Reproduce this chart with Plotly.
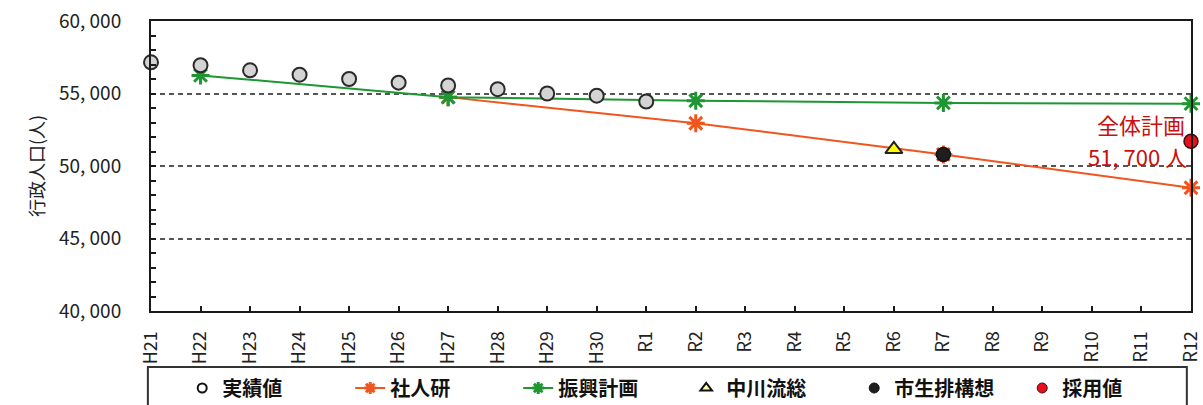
import plotly.graph_objects as go

# 年度カテゴリ（平成21年度〜令和12年度）
years = ["H21", "H22", "H23", "H24", "H25", "H26", "H27", "H28", "H29", "H30",
         "R1", "R2", "R3", "R4", "R5", "R6", "R7", "R8", "R9", "R10", "R11", "R12"]

# 実績値
actual_years = ["H21", "H22", "H23", "H24", "H25", "H26", "H27", "H28", "H29", "H30", "R1"]
actual_vals = [57150, 56950, 56600, 56300, 56000, 55750, 55550, 55300, 55000, 54850, 54450]

# 社人研推計
ipss_years = ["H27", "R2", "R7", "R12"]
ipss_vals = [54750, 52950, 50800, 48500]

# 振興計画
plan_years = ["H22", "H27", "R2", "R7", "R12"]
plan_vals = [56250, 54750, 54500, 54350, 54300]

# 中川流総
nakagawa_years = ["R6"]
nakagawa_vals = [51150]

# 市生排構想
city_years = ["R7"]
city_vals = [50800]

# 採用値
adopted_years = ["R12"]
adopted_vals = [51700]

y_ticks = [40000, 45000, 50000, 55000, 60000]
y_ticktext = [f"{v:,}".replace(",", ", ") for v in y_ticks]

FONT = "Noto Sans CJK JP"
ORANGE = "#f0551e"
GREEN = "#1e9632"

fig = go.Figure()

# --- データ系列 ---
fig.add_trace(go.Scatter(
    x=ipss_years, y=ipss_vals, name="社人研", mode="lines+markers",
    line=dict(color=ORANGE, width=2),
    marker=dict(symbol="asterisk-open", size=15, line=dict(color=ORANGE, width=3)),
    cliponaxis=False, showlegend=False,
))
fig.add_trace(go.Scatter(
    x=plan_years, y=plan_vals, name="振興計画", mode="lines+markers",
    line=dict(color=GREEN, width=2),
    marker=dict(symbol="asterisk-open", size=15, line=dict(color=GREEN, width=3)),
    cliponaxis=False, showlegend=False,
))
fig.add_trace(go.Scatter(
    x=actual_years, y=actual_vals, name="実績値", mode="markers",
    marker=dict(symbol="circle", size=14, color="#d4d4d4", line=dict(color="#2a2a2a", width=2)),
    cliponaxis=False, showlegend=False,
))
fig.add_trace(go.Scatter(
    x=nakagawa_years, y=nakagawa_vals, name="中川流総", mode="markers",
    marker=dict(symbol="triangle-up", size=15, color="#ffff00", line=dict(color="#222222", width=2)),
    cliponaxis=False, showlegend=False,
))
fig.add_trace(go.Scatter(
    x=city_years, y=city_vals, name="市生排構想", mode="markers",
    marker=dict(symbol="circle", size=14, color="#1e1e1e", line=dict(color="#111111", width=1.5)),
    cliponaxis=False, showlegend=False,
))
fig.add_trace(go.Scatter(
    x=adopted_years, y=adopted_vals, name="採用値", mode="markers",
    marker=dict(symbol="circle", size=14, color="#e8101e", line=dict(color="#3a1010", width=1.5)),
    cliponaxis=False, showlegend=False,
))

# --- 凡例用（小さめの記号） ---
legend_items = [
    ("実績値", "markers", dict(symbol="circle", size=9, color="white", line=dict(color="#111111", width=2)), None),
    ("社人研", "lines+markers", dict(symbol="asterisk-open", size=10, line=dict(color=ORANGE, width=3)), dict(color=ORANGE, width=2)),
    ("振興計画", "lines+markers", dict(symbol="asterisk-open", size=10, line=dict(color=GREEN, width=3)), dict(color=GREEN, width=2)),
    ("中川流総", "markers", dict(symbol="triangle-up", size=10, color="#ffffb0", line=dict(color="#111111", width=2)), None),
    ("市生排構想", "markers", dict(symbol="circle", size=10, color="#1e1e1e", line=dict(color="#111111", width=1)), None),
    ("採用値", "markers", dict(symbol="circle", size=10, color="#e8101e", line=dict(color="#3a1010", width=1)), None),
]
for name, mode, mk, ln in legend_items:
    kw = dict(line=ln) if ln else {}
    fig.add_trace(go.Scatter(x=[None], y=[None], name=name, mode=mode, marker=mk,
                             showlegend=True, hoverinfo="skip", **kw))

# 採用値の注記
fig.add_annotation(x=adopted_years[0], y=52900, xref="x", yref="y", text="全体計画",
                   showarrow=False, xanchor="right", xshift=-4,
                   font=dict(family=FONT, size=22, color="#c81010"))
fig.add_annotation(x=adopted_years[0], y=50700, xref="x", yref="y",
                   text=f"{adopted_vals[0]:,}".replace(",", ", ") + " 人",
                   showarrow=False, xanchor="right", xshift=-2,
                   font=dict(family=FONT, size=22, color="#c81010"))

# 凡例の枠
fig.add_shape(type="rect", xref="paper", yref="paper",
              x0=-0.003, x1=0.996, y0=-0.40, y1=-0.193,
              line=dict(color="#333333", width=2), fillcolor="white", layer="below")

fig.update_layout(
    width=1203, height=405,
    margin=dict(l=151, r=12, t=21, b=94, autoexpand=False),
    paper_bgcolor="white", plot_bgcolor="white",
    font=dict(family=FONT, color="#222222"),
    showlegend=True,
    legend=dict(
        orientation="h", x=0.03, xanchor="left", y=-0.2655, yanchor="middle",
        entrywidth=123, entrywidthmode="pixels",
        borderwidth=0, bgcolor="rgba(0,0,0,0)",
        font=dict(family=FONT, size=20, color="#111111", weight="bold"),
    ),
)

fig.update_xaxes(
    type="category", categoryorder="array", categoryarray=years,
    range=[0, len(years) - 1],
    showline=True, linecolor="#1a1a1a", linewidth=2, mirror=True,
    ticks="inside", ticklen=5, tickwidth=2, tickcolor="#1a1a1a",
    tickangle=-90, ticklabelstandoff=11,
    tickfont=dict(family=FONT, size=18, color="#222222"),
    showgrid=False, zeroline=False,
)

fig.update_yaxes(
    range=[40000, 60000],
    tickvals=y_ticks, ticktext=y_ticktext,
    showline=True, linecolor="#1a1a1a", linewidth=2, mirror=True,
    ticks="inside", ticklen=5, tickwidth=2, tickcolor="#1a1a1a",
    minor=dict(dtick=1000, ticks="inside", ticklen=5, tickwidth=2, tickcolor="#1a1a1a", showgrid=False),
    showgrid=True, gridcolor="#555555", gridwidth=1.5, griddash="5px,4px",
    zeroline=False, ticklabelstandoff=24,
    tickfont=dict(family=FONT, size=19, color="#222222"),
    title=dict(text="行政人口(人)", font=dict(family=FONT, size=18, color="#222222"), standoff=10),
)

fig.write_html("out.html")
